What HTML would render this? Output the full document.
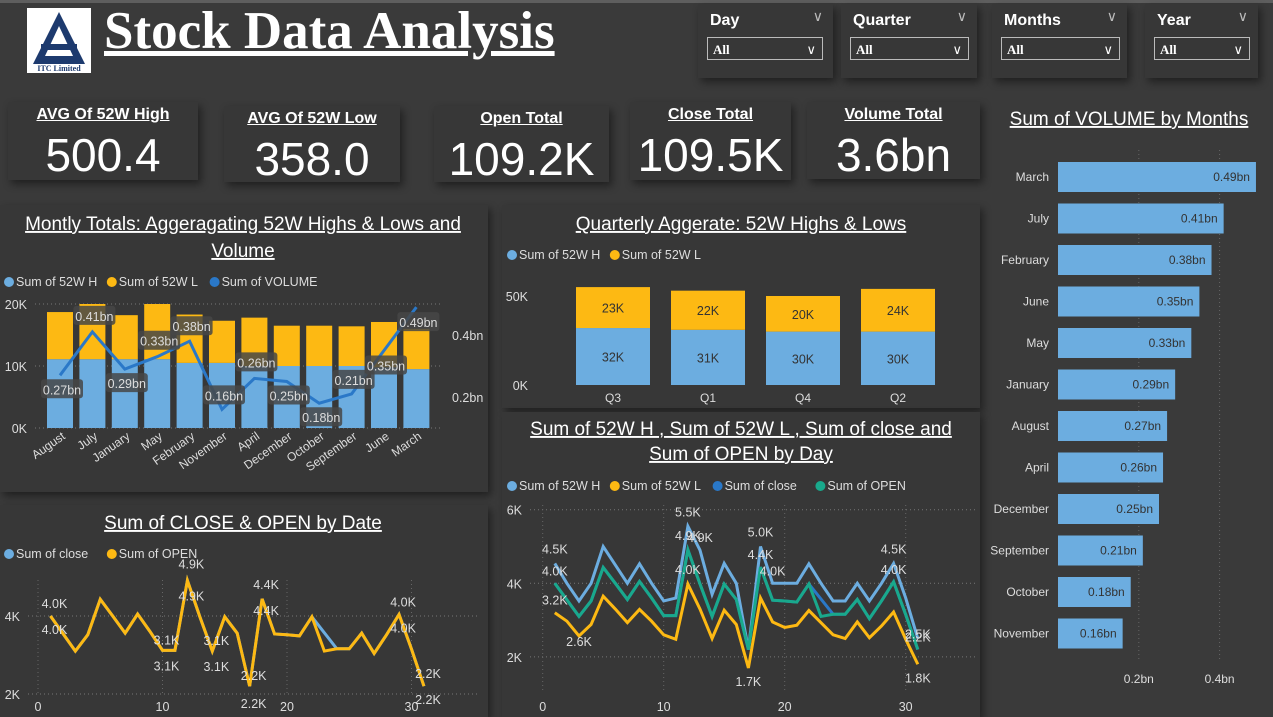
<!DOCTYPE html>
<html><head><meta charset="utf-8"><style>
body{margin:0;width:1273px;height:717px;background:#3a3a3a;overflow:hidden;position:relative;font-family:"Liberation Sans",sans-serif;color:#fff}
.p{position:absolute;background:#373737;box-shadow:3px 4px 8px rgba(0,0,0,.45)}
.kt{position:absolute;left:0;right:0;text-align:center;font-weight:bold;font-size:16px;text-decoration:underline;top:4px}
.kv{position:absolute;left:0;right:0;text-align:center;font-size:46px;top:26px}
.sl .t{position:absolute;left:12px;top:8px;font-weight:bold;font-size:16px}
.sl .c{position:absolute;right:10px;top:4px;font-size:14px;color:#bbb}
.sl .b{position:absolute;left:9px;top:33px;height:23px;border:1px solid #bbb;font-family:"Liberation Serif",serif;font-weight:bold;font-size:13px;line-height:23px;padding-left:5px;box-sizing:border-box}
.sl .b span{position:absolute;right:6px;top:0;font-family:"Liberation Sans";font-weight:normal}
</style></head><body>
<div style="position:absolute;left:0;top:0;width:1273px;height:3px;background:#5e5e5e"></div>
<div style="position:absolute;left:27px;top:8px;width:64px;height:65px;background:#fff">
<svg width="64" height="65"><polygon points="32,4 6,56 58,56" fill="#1d3a6e"/><polygon points="32,18 18,48 46,48" fill="#fff"/><rect x="14" y="36" width="36" height="6" fill="#1d3a6e"/><text x="32" y="63" font-size="8" font-family="Liberation Serif" fill="#1d3a6e" text-anchor="middle" font-weight="bold">ITC Limited</text></svg></div>
<div style="position:absolute;left:104px;top:1px;font-family:'Liberation Serif',serif;font-weight:bold;font-size:53px;text-decoration:underline">Stock Data Analysis</div>

<div class="p sl" style="left:698px;top:4px;width:135px;height:74px"><div class="t">Day</div><div class="c">∨</div><div class="b" style="width:116px">All<span>∨</span></div></div>
<div class="p sl" style="left:841px;top:4px;width:136px;height:74px"><div class="t">Quarter</div><div class="c">∨</div><div class="b" style="width:119px">All<span>∨</span></div></div>
<div class="p sl" style="left:992px;top:4px;width:135px;height:74px"><div class="t">Months</div><div class="c">∨</div><div class="b" style="width:119px">All<span>∨</span></div></div>
<div class="p sl" style="left:1145px;top:4px;width:113px;height:74px"><div class="t">Year</div><div class="c">∨</div><div class="b" style="width:96px">All<span>∨</span></div></div>

<div class="p" style="left:8px;top:102px;width:190px;height:78px"><div class="kt">AVG Of 52W High</div><div class="kv">500.4</div></div>
<div class="p" style="left:224px;top:106px;width:176px;height:76px"><div class="kt">AVG Of 52W Low</div><div class="kv">358.0</div></div>
<div class="p" style="left:434px;top:106px;width:175px;height:76px"><div class="kt">Open Total</div><div class="kv">109.2K</div></div>
<div class="p" style="left:630px;top:102px;width:161px;height:78px"><div class="kt">Close Total</div><div class="kv">109.5K</div></div>
<div class="p" style="left:807px;top:102px;width:173px;height:77px"><div class="kt">Volume Total</div><div class="kv">3.6bn</div></div>

<div class="p" style="left:0;top:205px;width:488px;height:287px"></div>
<div class="p" style="left:502px;top:205px;width:478px;height:203px"></div>
<div class="p" style="left:502px;top:412px;width:478px;height:305px"></div>
<div class="p" style="left:0;top:505px;width:488px;height:212px"></div>
<div class="p" style="left:993px;top:100px;width:280px;height:600px;background:#3a3a3a;box-shadow:none"></div>

<svg id="s" width="1273" height="717" style="position:absolute;left:0;top:0" font-family="Liberation Sans, sans-serif"></svg>
<script>
// Monthly
const months=["August","July","January","May","February","November","April","December","October","September","June","March"];
const high52=[11.1,11.1,11.1,11.1,10.5,10.5,10.0,10.0,10.0,10.0,9.8,9.5];
const low52=[7.6,8.9,7.1,8.9,7.8,6.8,7.8,6.5,6.5,6.4,7.3,6.5];
const volume=[0.27,0.41,0.29,0.33,0.38,0.16,0.26,0.25,0.18,0.21,0.35,0.49];
const volLabelDy=[14,-16,14,-16,-15,-14,-16,14,14,-14,15,15];
// Quarterly
const quarters=["Q3","Q1","Q4","Q2"];
const qHigh=[32,31,30,30];
const qLow=[23,22,20,24];
// Volume by month (sorted)
const vmMonths=["March","July","February","June","May","January","August","April","December","September","October","November"];
const vmValues=[0.49,0.41,0.38,0.35,0.33,0.29,0.27,0.26,0.25,0.21,0.18,0.16];
// Daily
const days=[1,2,3,4,5,6,7,8,9,10,11,12,13,14,15,16,17,18,19,20,21,22,23,24,25,26,27,28,29,30,31];
const openV=[4.0,3.55,3.1,3.52,4.43,4.0,3.56,4.05,3.6,3.12,3.12,4.91,3.98,3.1,3.98,3.56,2.2,4.44,3.54,3.52,3.49,3.98,3.1,3.16,3.16,3.56,3.04,3.52,4.04,3.15,2.2];
const closeV=[4.0,3.55,3.1,3.52,4.43,4.0,3.56,4.05,3.6,3.12,3.12,4.91,3.98,3.1,3.98,3.56,2.2,4.44,3.54,3.52,3.49,3.98,3.57,3.16,3.16,3.56,3.04,3.52,4.04,3.15,2.2];
const highD=[4.54,4.0,3.52,4.0,5.0,4.5,4.0,4.53,4.0,3.52,3.6,5.55,4.9,3.7,4.54,4.0,2.2,5.0,4.0,4.0,4.0,4.53,4.0,3.52,3.52,4.0,3.52,4.0,4.54,3.6,2.5];
const lowD=[3.2,2.97,2.57,2.88,3.65,3.3,2.93,3.29,2.97,2.6,2.48,3.98,3.3,2.5,3.27,2.88,1.7,3.6,2.95,2.8,2.86,3.26,2.93,2.6,2.5,2.95,2.52,2.84,3.22,2.48,1.8];
const coTicks=[0,10,20,30];

const S=document.getElementById('s');const NS='http://www.w3.org/2000/svg';
function mk(tag,a,par){const e=document.createElementNS(NS,tag);for(const k in a)e.setAttribute(k,a[k]);(par||S).appendChild(e);return e;}
function tx(x,y,t,a,par){const e=mk('text',Object.assign({x:x,y:y,fill:'#ddd','font-size':12},a||{}),par);e.textContent=t;return e;}
function grp(){return mk('g',{});}
const LB='#6cade0',YE='#fdb913',DB='#2a78c8',TE='#19a98c';
function legend(g,x,y,items){let cx=x;items.forEach(it=>{const c=mk('circle',{cx:cx+5,cy:y-4,r:5,fill:it[1]},g);const t=tx(cx+12,y,it[0],{'font-size':12.5},g);cx+=12+it[0].length*6.9+8;});}
function title(g,x,y,t,fs){const e=tx(x,y,t,{fill:'#fff','font-size':fs||19,'text-anchor':'middle','text-decoration':'underline'},g);}
function dl(g,x,y,t){const r=mk('rect',{x:x-21,y:y-10,width:42,height:19,rx:3,fill:'rgba(70,70,70,0.85)'},g);const e=tx(x,y+5,t,{'text-anchor':'middle','font-size':12.5},g);}

// ---------- Monthly chart
(function(){
const g=grp();
title(g,243,230,'Montly Totals: Aggeragating 52W Highs & Lows and');title(g,243,257,'Volume');
legend(g,4,286,[['Sum of 52W H',LB],['Sum of 52W L',YE],['Sum of VOLUME',DB]]);
const yL=v=>428-v*6.2, yR=v=>459-v*310, xc=i=>60+i*32.4;
[0,10,20].forEach(v=>{mk('line',{x1:35,x2:442,y1:yL(v),y2:yL(v),stroke:'#777','stroke-dasharray':'1 3'},g);const t=tx(27,yL(v)+5,v+'K',{'text-anchor':'end','font-size':12.5},g);});
[0.2,0.4].forEach(v=>{const t=tx(452,yR(v)+5,v+'bn',{'font-size':12.5},g);});
months.forEach((m,i)=>{
 const b1=mk('rect',{x:xc(i)-13,y:yL(high52[i]),width:26,height:high52[i]*6.2,fill:LB},g);
 const b2=mk('rect',{x:xc(i)-13,y:yL(high52[i]+low52[i]),width:26,height:low52[i]*6.2,fill:YE},g);
 const t=tx(xc(i)+6,438,m,{'text-anchor':'end','font-size':12,transform:'rotate(-35 '+(xc(i)+6)+' 438)'},g);
});
const ln=mk('polyline',{points:volume.map((v,i)=>xc(i)+','+yR(v)).join(' '),fill:'none',stroke:DB,'stroke-width':3},g);
volume.forEach((v,i)=>dl(g,xc(i)+2,yR(v)+volLabelDy[i],v.toFixed(2)+'bn'));
})();

// ---------- Quarterly
(function(){
const g=grp();
title(g,741,230,'Quarterly Aggerate: 52W Highs & Lows');
legend(g,507,259,[['Sum of 52W H',LB],['Sum of 52W L',YE]]);
const y=v=>385-v*1.78, xc=[613,708,803,898];
[0,50].forEach(v=>{const t=tx(528,y(v)+5,v+'K',{'text-anchor':'end','font-size':12.5},g);});
quarters.forEach((q,i)=>{
 const b1=mk('rect',{x:xc[i]-37,y:y(qHigh[i]),width:74,height:qHigh[i]*1.78,fill:LB},g);
 const b2=mk('rect',{x:xc[i]-37,y:y(qHigh[i]+qLow[i]),width:74,height:qLow[i]*1.78,fill:YE},g);
 tx(xc[i],y(qHigh[i]/2)+5,qHigh[i]+'K',{'text-anchor':'middle',fill:'#333','font-size':12.5},g);
 tx(xc[i],y(qHigh[i]+qLow[i]/2)+5,qLow[i]+'K',{'text-anchor':'middle',fill:'#333','font-size':12.5},g);
 const t=tx(xc[i],402,q,{'text-anchor':'middle','font-size':12},g);
});
})();

// ---------- Volume by months
(function(){
const g=grp();
title(g,1129,125,'Sum of VOLUME by Months');
const x=v=>1058+v*404, yc=i=>177+i*41.5;
[0.2,0.4].forEach(v=>{mk('line',{x1:x(v),x2:x(v),y1:150,y2:660,stroke:'#666','stroke-dasharray':'1 3'},g);const t=tx(x(v),683,v+'bn',{'text-anchor':'middle','font-size':12},g);});
vmMonths.forEach((m,i)=>{
 const r=mk('rect',{x:1058,y:yc(i)-15,width:vmValues[i]*404,height:30,fill:LB},g);
 const l=tx(1049,yc(i)+4,m,{'text-anchor':'end','font-size':12},g);
 tx(x(vmValues[i])-6,yc(i)+4,vmValues[i].toFixed(2)+'bn',{'text-anchor':'end',fill:'#333','font-size':12},g);
});
})();

// ---------- Close & Open by date
(function(){
const g=grp();
title(g,243,529,'Sum of CLOSE & OPEN by Date');
legend(g,4,558,[['Sum of close',LB],['Sum of OPEN',YE]]);
const x=d=>38+d*12.45, y=v=>616-(v-4)*39;
[2,4].forEach(v=>{mk('line',{x1:28,x2:480,y1:y(v),y2:y(v),stroke:'#777','stroke-dasharray':'1 3'},g);const t=tx(20,y(v)+5,v+'K',{'text-anchor':'end','font-size':12.5},g);});
coTicks.forEach(d=>{mk('line',{x1:x(d),x2:x(d),y1:580,y2:695,stroke:'#666','stroke-dasharray':'1 3'},g);const t=tx(x(d),711,d,{'text-anchor':'middle','font-size':12.5},g);});
const c=mk('polyline',{points:days.map((d,i)=>x(d)+','+y(closeV[i])).join(' '),fill:'none',stroke:LB,'stroke-width':3},g);
const o=mk('polyline',{points:days.map((d,i)=>x(d)+','+y(openV[i])).join(' '),fill:'none',stroke:YE,'stroke-width':3},g);
[[1,-12],[1,14],[10,-10],[10,16],[12,-16],[12,16],[14,-10],[14,16],[17,-10],[17,18],[18,-14],[18,12],[29,-12],[29,14],[31,-12],[31,14]].forEach(p=>{const i=p[0]-1;tx(x(p[0])+4,y(openV[i])+p[1]+4,openV[i].toFixed(1)+'K',{'text-anchor':'middle','font-size':12.5},g);});
})();

// ---------- Daily 52W / close / open
(function(){
const g=grp();
title(g,741,435,'Sum of 52W H , Sum of 52W L , Sum of close and');title(g,741,460,'Sum of OPEN by Day');
legend(g,507,490,[['Sum of 52W H',LB],['Sum of 52W L',YE],['Sum of close',DB],['Sum of OPEN',TE]]);
const x=d=>542.7+d*12.1, y=v=>583.3-(v-4)*36.8;
[2,4,6].forEach(v=>{mk('line',{x1:530,x2:975,y1:y(v),y2:y(v),stroke:'#777','stroke-dasharray':'1 3'},g);const t=tx(522,y(v)+5,v+'K',{'text-anchor':'end','font-size':12.5},g);});
coTicks.forEach(d=>{mk('line',{x1:x(d),x2:x(d),y1:505,y2:690,stroke:'#666','stroke-dasharray':'1 3'},g);const t=tx(x(d),711,d,{'text-anchor':'middle','font-size':12.5},g);});
[[highD,LB,'high-52w-line'],[lowD,YE,'low-52w-line'],[closeV,DB,'close-line'],[openV,TE,'open-line']].forEach(s=>{
 const l=mk('polyline',{points:days.map((d,i)=>x(d)+','+y(s[0][i])).join(' '),fill:'none',stroke:s[1],'stroke-width':3},g);
});
[[highD,1,-14],[openV,1,-12],[lowD,1,-12],[lowD,3,6],[highD,12,-14],[openV,12,-14],[highD,13,-12],[lowD,12,-14],[highD,18,-14],[openV,18,-12],[highD,19,-12],[highD,29,-14],[openV,29,-12],[openV,31,-12],[lowD,31,14],[lowD,17,14],[highD,31,-4]].forEach(p=>{const v=p[0][p[1]-1];tx(x(p[1]),y(v)+p[2]+4,v.toFixed(1)+'K',{'text-anchor':'middle','font-size':12.5},g);});
})();
</script>
</body></html>
